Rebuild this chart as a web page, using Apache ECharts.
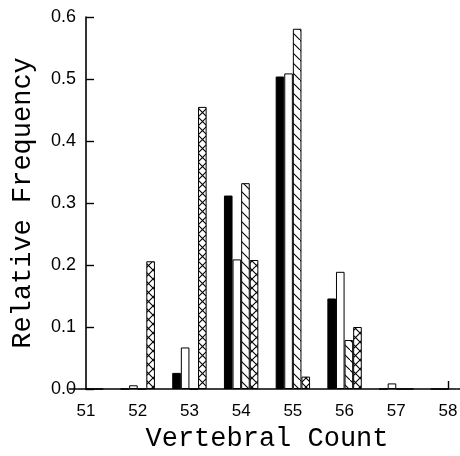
<!DOCTYPE html>
<html>
<head>
<meta charset="utf-8">
<script src="https://cdn.jsdelivr.net/npm/echarts@6/dist/echarts.min.js"></script>
<style>html,body{margin:0;padding:0;background:#fff}#c{width:460px;height:456px}</style>
</head>
<body>
<div id="c"></div>
<script>
const categories = ['51','52','53','54','55','56','57','58'];
const solidBlack = [0, 0, 0.026, 0.312, 0.504, 0.146, 0, 0];
const openWhite  = [0, 0.006, 0.067, 0.209, 0.509, 0.189, 0.009, 0];
const diagHatch  = [0, 0, 0, 0.332, 0.581, 0.079, 0, 0];
const crossHatch = [0, 0.206, 0.455, 0.208, 0.02, 0.10, 0, 0];
const yTicks = [0, 0.1, 0.2, 0.3, 0.4, 0.5, 0.6];

function makeTile(size, drawFn) {
  const c = document.createElement('canvas');
  c.width = size; c.height = size;
  const g = c.getContext('2d');
  g.fillStyle = '#fff'; g.fillRect(0, 0, size, size);
  g.strokeStyle = '#000'; g.lineWidth = 1.1;
  drawFn(g, size);
  return c;
}
const diagTile = makeTile(10, (g, s) => {
  g.beginPath(); g.moveTo(-1, -1); g.lineTo(s + 1, s + 1); g.stroke();
});
const crossTile = makeTile(9, (g, s) => {
  g.beginPath();
  g.moveTo(-1, -1); g.lineTo(s + 1, s + 1);
  g.moveTo(s + 1, -1); g.lineTo(-1, s + 1);
  g.stroke();
});

const chart = echarts.init(document.getElementById('c'), null, {renderer: 'canvas'});
const bw = 8.6;
function barSeries(name, data, color) {
  return {
    name, type: 'bar', data, barWidth: bw, barGap: '0%',
    itemStyle: {color, borderColor: '#000', borderWidth: 1},
    silent: true, animation: false
  };
}
chart.setOption({
  animation: false,
  backgroundColor: '#fff',
  grid: {left: 86, right: 12, top: 17, bottom: 67, containLabel: false, outerBoundsMode: 'none'},
  xAxis: {
    type: 'category', data: categories, boundaryGap: false,
    name: 'Vertebral Count', nameLocation: 'middle', nameGap: 34,
    nameTextStyle: {fontFamily: 'Liberation Mono', fontSize: 27, color: '#000'},
    axisLine: {lineStyle: {color: '#000', width: 1.6}},
    axisTick: {show: true, inside: true, length: 8, interval: (i) => i === 7,
               lineStyle: {color: '#000', width: 1.4}},
    axisLabel: {fontFamily: 'Liberation Sans', fontSize: 17, color: '#000', margin: 14, interval: 0},
    splitLine: {show: false}
  },
  yAxis: {
    type: 'value', min: 0, max: 0.6, interval: 0.1,
    name: 'Relative Frequency', nameLocation: 'middle', nameGap: 50,
    nameTextStyle: {fontFamily: 'Liberation Mono', fontSize: 27, color: '#000'},
    axisLine: {show: true, lineStyle: {color: '#000', width: 1.6}},
    axisTick: {show: true, inside: true, length: 8, lineStyle: {color: '#000', width: 1.4}},
    axisLabel: {fontFamily: 'Liberation Sans', fontSize: 18, color: '#000', margin: 10,
                formatter: (v) => {
                  const t = yTicks.find(x => Math.abs(x - v) < 1e-9);
                  return (t === undefined ? v : t).toFixed(1);
                }},
    splitLine: {show: false}
  },
  series: [
    barSeries('solid', solidBlack, '#000'),
    barSeries('open', openWhite, '#fff'),
    barSeries('diagonal', diagHatch, {image: diagTile, repeat: 'repeat'}),
    barSeries('cross', crossHatch, {image: crossTile, repeat: 'repeat'})
  ]
});
</script>
</body>
</html>
